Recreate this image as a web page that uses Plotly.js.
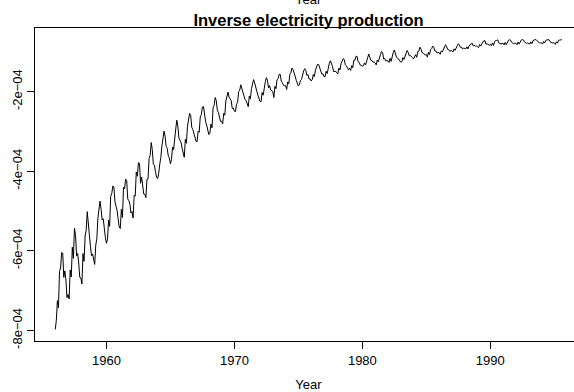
<!DOCTYPE html>
<html>
<head>
<meta charset="utf-8">
<script src="https://cdn.plot.ly/plotly-3.0.1.min.js"></script>
<style>
html,body{margin:0;padding:0;overflow:hidden;background:#fff;width:574px;height:392px;}
#chart{margin-top:-10px;width:584px;height:402px;}
</style>
</head>
<body>
<div id="chart"></div>
<script>
// Monthly electricity production (million kWh), Jan 1956 - Aug 1995, read/
var startYear = 1956;
var y1956 = [1254,1290,1379,1346,1535,1555,1655,1651,1500,1538,1486,1394];
var y1957 = [1409,1387,1543,1502,1693,1616,1841,1787,1631,1649,1586,1500];
var y1958 = [1497,1463,1648,1596,1777,1824,1994,1835,1787,1699,1633,1645];
var y1959 = [1597,1577,1709,1756,1936,2052,2105,2016,1914,1925,1824,1765];
var y1960 = [1721,1752,1914,1857,2159,2195,2287,2276,2096,2055,2004,1924];
var y1961 = [1851,1839,2019,1937,2270,2251,2382,2364,2129,2110,2072,1980];
var y1962 = [1995,1932,2171,2162,2489,2424,2641,2630,2324,2412,2284,2186];
var y1963 = [2184,2144,2379,2383,2717,2774,3051,2891,2613,2600,2493,2410];
var y1964 = [2390,2463,2616,2734,2970,3125,3342,3207,2964,2919,2764,2732];
var y1965 = [2622,2698,2950,2895,3200,3408,3679,3473,3154,3107,3052,2918];
var y1966 = [2786,2739,3125,3033,3486,3661,3927,3851,3456,3390,3280,3166];
var y1967 = [3080,3069,3340,3310,3798,3883,4191,4213,3766,3628,3520,3322];
var y1968 = [3250,3287,3552,3440,4153,4265,4655,4492,4051,3967,3807,3639];
var y1969 = [3647,3560,3929,3858,4485,4697,4977,4675,4596,4491,4127,4144];
var y1970 = [4014,3994,4320,4400,5002,5091,5471,5193,4997,4737,4546,4498];
var y1971 = [4350,4206,4743,4582,5191,5457,5891,5618,5158,5030,4800,4654];
var y1972 = [4453,4440,4945,4788,5425,5706,6061,5846,5242,5408,5114,5042];
var y1973 = [5008,4657,5359,5193,5891,5980,6390,6366,5756,5640,5429,5398];
var y1974 = [5413,5141,5695,5554,6369,6592,7107,6917,6353,6205,5830,5646];
var y1975 = [5379,5489,5824,5907,6482,6795,7028,6776,6274,6362,5940,5958];
var y1976 = [5769,5887,6367,6165,6868,7201,7601,7581,7090,6841,6408,6435];
var y1977 = [6176,6138,6717,6470,7312,7763,8171,7788,7311,6679,6704,6724];
var y1978 = [6552,6427,7105,6869,7683,8082,8555,8386,7553,7398,7112,6886];
var y1979 = [7077,6820,7426,7143,8261,8240,8977,8991,8026,7911,7510,7381];
var y1980 = [7366,7414,7824,7524,8279,8707,9486,8973,8231,8206,7927,7999];
var y1981 = [7834,7521,8284,7999,8940,9381,10078,9796,8471,8572,8150,8168];
var y1982 = [8166,7903,8606,8071,9178,9873,10476,9296,8818,8697,8381,8293];
var y1983 = [7942,8001,8744,8397,9115,9773,10358,9849,9083,9143,8800,8741];
var y1984 = [8492,8795,9354,8796,10072,10174,11326,10744,9806,9740,9373,9244];
var y1985 = [9407,8827,9880,9364,10580,10899,11687,11280,10208,10212,9725,9721];
var y1986 = [9846,9407,10265,9970,10801,11246,12167,11578,10645,10613,10104,10348];
var y1987 = [10263,9973,10803,10409,11458,11845,12559,12070,11221,11338,10761,11012];
var y1988 = [10923,10790,11427,10788,11772,12104,12634,12772,11764,11956,11646,11750];
var y1989 = [11485,11198,12265,11704,12419,13259,13945,13839,12387,12546,12038,11977];
var y1990 = [12336,11793,12877,11923,13306,13988,14002,14338,12867,12761,12449,12658];
var y1991 = [12746,12090,13125,12197,13451,14095,14360,14188,13146,12903,12507,12839];
var y1992 = [12722,12149,13227,12428,13692,14194,14418,14326,13338,12989,12657,12887];
var y1993 = [12772,12418,13361,12573,13880,14260,14450,14395,13685,13376,12853,12908];
var y1994 = [12967,12405,13522,12897,14064,14274,14455,14402,13482,13220,12850,13015];
var y1995 = [12840,12310,13401,12780,14079,14190,14465,14398];

var years = [y1956,y1957,y1958,y1959,y1960,y1961,y1962,y1963,y1964,y1965,
             y1966,y1967,y1968,y1969,y1970,y1971,y1972,y1973,y1974,y1975,
             y1976,y1977,y1978,y1979,y1980,y1981,y1982,y1983,y1984,y1985,
             y1986,y1987,y1988,y1989,y1990,y1991,y1992,y1993,y1994,y1995];

var yTickVals = [-8e-4, -6e-4, -4e-4, -2e-4];
var yTickText = ["-8e\u221204", "-6e\u221204", "-4e\u221204", "-2e\u221204"];
var xTickVals = [1960, 1970, 1980, 1990];
var xTickText = ["1960", "1970", "1980", "1990"];

var t = [], inv = [];
years.forEach(function (arr, i) {
  arr.forEach(function (v, m) {
    t.push(startYear + i + m / 12);
    inv.push(-1 / v);
  });
});

var font = "Liberation Sans, Arial, Helvetica, sans-serif";

var trace = {
  x: t, y: inv, type: "scatter", mode: "lines",
  line: {color: "#000", width: 1}, hoverinfo: "skip"
};

var layout = {
  width: 584, height: 402,
  margin: {l: 35, r: 2, t: 38, b: 51},
  paper_bgcolor: "#fff", plot_bgcolor: "#fff",
  showlegend: false,
  font: {family: font, size: 13, color: "#000"},
  title: {
    text: "<b>Inverse electricity production</b>",
    font: {family: font, size: 16.5, color: "#000"},
    x: 0.5, xref: "paper", xanchor: "center",
    y: 1 - 30.5 / 402, yref: "container", yanchor: "middle"
  },
  xaxis: {
    range: [1954.417, 1997.166],
    tickvals: xTickVals, ticktext: xTickText,
    ticks: "outside", ticklen: 7, tickwidth: 1, tickcolor: "#000",
    showgrid: false, zeroline: false,
    showline: true, linecolor: "#000", linewidth: 1, mirror: true,
    tickfont: {family: font, size: 13, color: "#000"},
    title: {text: "Year", font: {family: font, size: 13, color: "#000"}, standoff: 19},
    automargin: false
  },
  yaxis: {
    range: [-8.265e-4, -4.01e-5],
    tickvals: yTickVals, ticktext: yTickText, tickangle: -90,
    ticks: "outside", ticklen: 7, tickwidth: 1, tickcolor: "#000",
    showgrid: false, zeroline: false,
    showline: true, linecolor: "#000", linewidth: 1, mirror: true,
    tickfont: {family: font, size: 13, color: "#000"},
    automargin: false
  },
  annotations: [{
    text: "Year", xref: "paper", yref: "paper", x: 0.5, y: 1,
    xanchor: "center", yanchor: "middle", yshift: 29, showarrow: false,
    font: {family: font, size: 13, color: "#000"}
  }]
};

Plotly.newPlot("chart", [trace], layout, {displayModeBar: false, staticPlot: true});
</script>
</body>
</html>
